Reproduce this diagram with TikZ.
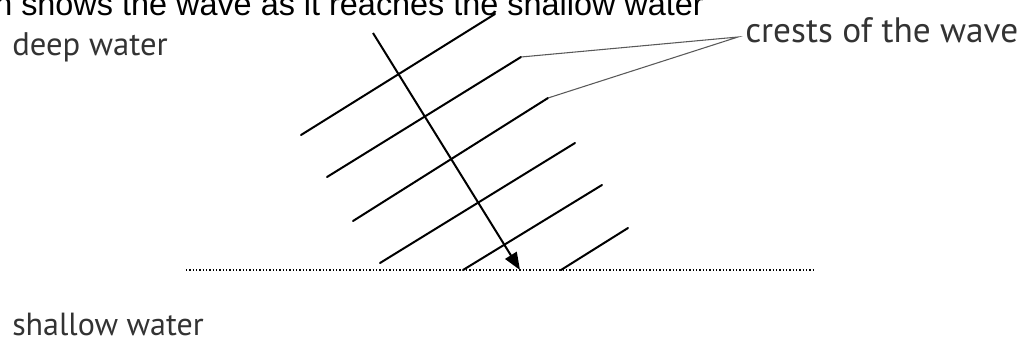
\documentclass[tikz,border=0pt]{standalone}
\usepackage{fontspec}
\setmainfont{PT Sans}
\newfontfamily\headfont{Liberation Sans}
\usepackage{tikz}
\usetikzlibrary{arrows.meta}

\begin{document}
\begin{tikzpicture}[x=0.75pt,y=-0.75pt,>={Triangle[length=13pt,width=10pt]}]
\tikzstyle{crest}=[line width=1.5pt,line cap=round]
\tikzstyle{lbl}=[inner sep=0pt,text=black!80,anchor=base west]
\tikzstyle{leader}=[line width=0.8pt,draw=black!65]
\useasboundingbox (0,0) rectangle (1022,347);
\clip (0,0) rectangle (1022,347);
% cut-off heading
\node[anchor=base west,inner sep=0pt,font=\headfont\fontsize{24.3pt}{28pt}\selectfont] (head) at (-6,15.5) {n shows the wave as it reaches the shallow water};
% labels
\node[lbl,font=\fontsize{24.5pt}{28pt}\selectfont] (deep) at (12,55) {deep water};
\node[lbl,font=\fontsize{24pt}{28pt}\selectfont] (shallow) at (12,335) {shallow water};
\node[lbl,font=\fontsize{26.5pt}{30pt}\selectfont] (crests) at (745,42) {crests of the wave};
\coordinate (meet) at (738,37);
% boundary
\coordinate (edgeL) at (186,270);
\coordinate (edgeR) at (815,270);
\draw[line width=1.1pt,dash pattern=on 1.1pt off 1.4pt] (edgeL) -- (edgeR);
% crests
\coordinate (c2) at (521,57);
\coordinate (c3) at (548,98);
\draw[crest] (301,135) -- (495,14);
\draw[crest] (327,177) -- (c2);
\draw[crest] (353,221) -- (c3);
\draw[crest] (380,263) -- (575,143);
\draw[crest] (463,270) -- (602,185);
\draw[crest] (561,270) -- (628,228);
% direction of travel
\coordinate (start) at (373,33);
\coordinate (end) at (520,270);
\draw[crest,line cap=butt,->] (start) -- (end);
% pointers
\draw[leader] (c2) -- (meet) -- (c3);
\end{tikzpicture}
\end{document}
